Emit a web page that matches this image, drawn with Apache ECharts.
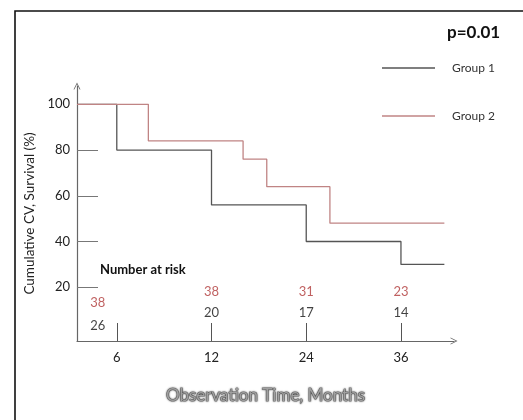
<!DOCTYPE html>
<html><head><meta charset="utf-8">
<script src="https://cdn.jsdelivr.net/npm/echarts@6/dist/echarts.min.js"></script>
<style>html,body{margin:0;padding:0;background:#fff}#c{width:523px;height:420px}</style>
</head><body><div id="c"></div>
<script>
// ---- data ----
const xTickMonths = [6, 12, 24, 36];
const yTickValues = [20, 40, 60, 80, 100];
const group1Times = [0, 6, 12, 24, 36, 41.5];
const group1Surv  = [100, 80, 56, 40, 30, 30];
const group2Times = [0, 8, 16, 19, 27, 41.5];
const group2Surv  = [100, 84, 76, 64, 48, 48];
const riskTimes = [6, 12, 24, 36];
const riskGroup2 = [38, 38, 31, 23];
const riskGroup1 = [26, 20, 17, 14];
const pText = 'p=0.01';

// ---- axis scale: labelled ticks are evenly spaced (ordinal-like), months interpolated between them ----
const ORIGIN_IDX = -0.42;
function monthToIdx(m) {
  const knotsM = [0].concat(xTickMonths);
  const knotsI = [ORIGIN_IDX].concat(xTickMonths.map((_, i) => i));
  if (m >= knotsM[knotsM.length - 1]) {
    const n = knotsM.length - 1;
    return knotsI[n] + (m - knotsM[n]) / (knotsM[n] - knotsM[n - 1]);
  }
  for (let i = 0; i < knotsM.length - 1; i++) {
    if (m >= knotsM[i] && m <= knotsM[i + 1]) {
      return knotsI[i] + (m - knotsM[i]) / (knotsM[i + 1] - knotsM[i]) * (knotsI[i + 1] - knotsI[i]);
    }
  }
  return ORIGIN_IDX;
}

const FONT = 'Lato';
const chevron = 'path://M0,10 L5,0 L10,10 L8.8,10 L5,2.4 L1.2,10 Z';

const chart = echarts.init(document.getElementById('c'), null, {renderer: 'canvas'});
const riskRowY = {g2: 18, g1: 9};
function riskData(counts, rowY, firstDy) {
  return counts.map((c, i) => ({
    value: [monthToIdx(riskTimes[i]), rowY, c],
    label: i === 0 ? {offset: [-19, firstDy]} : {}
  }));
}

chart.setOption({
  animation: false,
  backgroundColor: '#fff',
  textStyle: {fontFamily: FONT},
  grid: {left: 77, right: 69, top: 86, bottom: 79, containLabel: false},
  graphic: [
    {type: 'rect', shape: {x: 15, y: 11, width: 530, height: 430},
     style: {fill: 'none', stroke: '#111', lineWidth: 1.6}, silent: true},
    {type: 'text', left: 447, top: 24, style: {text: pText, font: 'bold 17px ' + FONT, fill: '#111'}},
    {type: 'text', left: 100, top: 263, style: {text: 'Number at risk', font: 'bold 13px ' + FONT, fill: '#111'}}
  ],
  legend: {
    orient: 'vertical', left: 377, top: 55,
    itemWidth: 53, itemHeight: 1.5, itemGap: 32,
    icon: 'rect',
    textStyle: {fontSize: 12, color: '#333', lineHeight: 16, padding: [0, 0, 0, 12]},
    data: ['Group 1', 'Group 2']
  },
  xAxis: {
    type: 'value', min: ORIGIN_IDX, max: 3.56,
    name: 'Observation Time, Months', nameLocation: 'middle', nameGap: 46,
    nameTextStyle: {fontSize: 17, color: '#a0a0a0', fontFamily: FONT,
      textBorderColor: 'rgba(60,60,60,0.55)', textBorderWidth: 1.2,
      textShadowColor: 'rgba(0,0,0,0.6)', textShadowBlur: 2},
    axisLine: {onZero: false, lineStyle: {color: '#666', width: 1.2}, symbol: ['none', chevron], symbolSize: [8, 7]},
    axisTick: {show: true, inside: true, length: 18, lineStyle: {color: '#555'},
      customValues: xTickMonths.map(monthToIdx)},
    axisLabel: {customValues: xTickMonths.map(monthToIdx), margin: 10, fontSize: 13, color: '#222',
      formatter: v => { const i = Math.round(v); return String(xTickMonths[i]); }},
    splitLine: {show: false}
  },
  yAxis: {
    type: 'value', min: -3.5, max: 108,
    name: 'Cumulative CV, Survival (%)', nameLocation: 'middle', nameGap: 36,
    nameTextStyle: {fontSize: 13.5, color: '#222', fontFamily: FONT},
    axisLine: {show: true, onZero: false, lineStyle: {color: '#666', width: 1.2}, symbol: ['none', chevron], symbolSize: [8, 7]},
    axisTick: {show: true, inside: true, length: 21, lineStyle: {color: '#777'}, customValues: yTickValues},
    axisLabel: {customValues: yTickValues, margin: 7, fontSize: 13, color: '#222'},
    splitLine: {show: false}
  },
  series: [
    {name: 'Group 1', type: 'line', step: 'end', showSymbol: false,
     lineStyle: {color: '#555', width: 1.3}, itemStyle: {color: '#555'},
     data: group1Times.map((t, i) => [monthToIdx(t), group1Surv[i]])},
    {name: 'Group 2', type: 'line', step: 'end', showSymbol: false,
     lineStyle: {color: '#c08484', width: 1.3}, itemStyle: {color: '#c08484'},
     data: group2Times.map((t, i) => [monthToIdx(t), group2Surv[i]])},
    {name: 'risk2', type: 'scatter', symbolSize: 0, silent: true,
     label: {show: true, position: 'inside', formatter: p => p.value[2], fontSize: 13, color: '#b03a3a'},
     data: riskData(riskGroup2, riskRowY.g2, 11)},
    {name: 'risk1', type: 'scatter', symbolSize: 0, silent: true,
     label: {show: true, position: 'inside', formatter: p => p.value[2], fontSize: 13, color: '#111'},
     data: riskData(riskGroup1, riskRowY.g1, 13)}
  ]
});
</script>
</body></html>
